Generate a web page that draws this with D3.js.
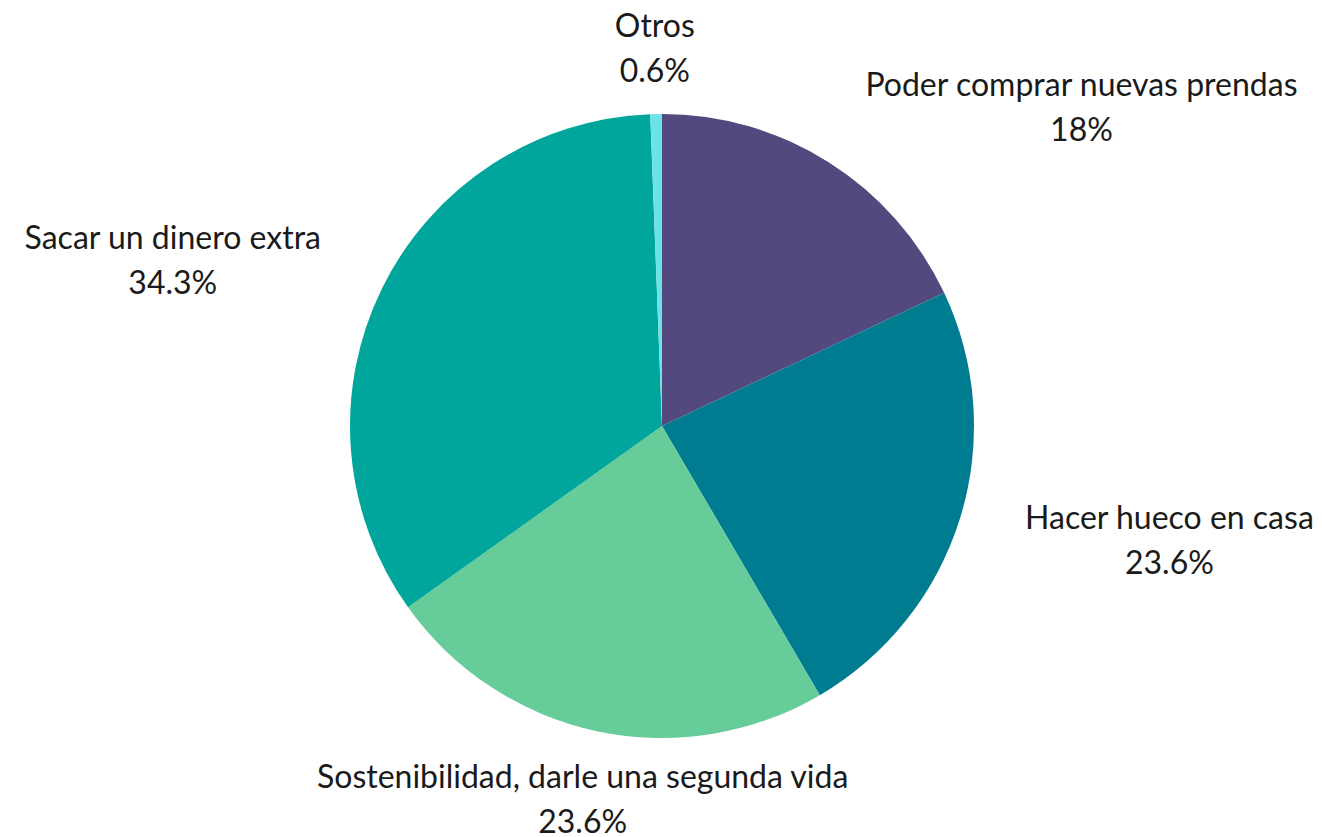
<!DOCTYPE html>
<html>
<head>
<meta charset="utf-8">
<script src="https://cdn.jsdelivr.net/npm/d3@7/dist/d3.min.js"></script>
<style>
  html, body { margin: 0; padding: 0; background: #fff; }
  svg { display: block; }
  text { font-family: Lato, "Open Sans", sans-serif; font-size: 32px; fill: #1a1a1a; }
</style>
</head>
<body>
<svg id="chart" width="1322" height="837"></svg>
<script>
const categories = ["Poder comprar nuevas prendas", "Hacer hueco en casa", "Sostenibilidad, darle una segunda vida", "Sacar un dinero extra", "Otros"];
const values = [18, 23.6, 23.6, 34.3, 0.6];
const valueLabels = ["18%", "23.6%", "23.6%", "34.3%", "0.6%"];
const colors = ["#54497e", "#007c91", "#66cc99", "#00a59b", "#6ce3e6"];

const W = 1322, H = 837;
const cx = 662, cy = 426, R = 312, labelR = 380;
const svg = d3.select("#chart");
const g = svg.append("g").attr("transform", `translate(${cx},${cy})`);

const data = categories.map((c, i) => ({ name: c, value: values[i], label: valueLabels[i], color: colors[i] }));
const pie = d3.pie().value(d => d.value).sort(null);
const arcs = pie(data);
const arc = d3.arc().innerRadius(0).outerRadius(R);

g.selectAll("path.slice").data(arcs).enter().append("path")
  .attr("class", "slice")
  .attr("d", arc)
  .attr("fill", d => d.data.color);

const lineH = 45;
arcs.forEach(a => {
  const mid = (a.startAngle + a.endAngle) / 2;
  const sx = Math.sin(mid), sy = -Math.cos(mid);
  const px = sx * labelR, py = sy * labelR + 2;
  const lg = g.append("g");
  const t1 = lg.append("text").attr("text-anchor", "middle").attr("dy", "0.35em").attr("y", -lineH / 2).text(a.data.name);
  const t2 = lg.append("text").attr("text-anchor", "middle").attr("dy", "0.35em").attr("y", lineH / 2).text(a.data.label);
  const w = Math.max(t1.node().getComputedTextLength(), t2.node().getComputedTextLength());
  let ox = px;
  if (Math.abs(sx) > 0.3) ox = sx > 0 ? px + w / 2 : px - w / 2;
  lg.attr("transform", `translate(${ox},${py})`);
});
</script>
</body>
</html>
